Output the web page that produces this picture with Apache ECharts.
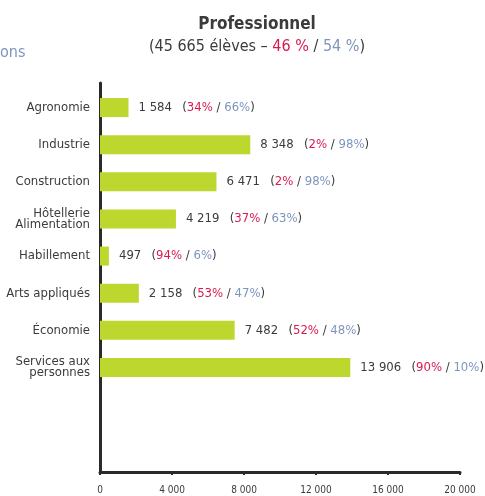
<!DOCTYPE html>
<html>
<head>
<meta charset="utf-8">
<script src="https://cdn.jsdelivr.net/npm/echarts@6/dist/echarts.min.js"></script>
<style>
  html, body { margin: 0; padding: 0; background: #fff; }
  #chart { width: 485px; height: 496px; }
</style>
</head>
<body>
<div id="chart"></div>
<script>
const categories = ['Agronomie', 'Industrie', 'Construction', 'Hôtellerie\nAlimentation', 'Habillement', 'Arts appliqués', 'Économie', 'Services aux\npersonnes'];
const students = [1584, 8348, 6471, 4219, 497, 2158, 7482, 13906];
const girlsPct = [34, 2, 2, 37, 94, 53, 52, 90];
const boysPct = [66, 98, 98, 63, 6, 47, 48, 10];
const xTicks = [0, 4000, 8000, 12000, 16000, 20000];

const FONT = "'Liberation Sans Narrow', 'DejaVu Sans Condensed', 'Roboto', sans-serif";
const DARK = '#3b3b3b';
const RED = '#d81b4f';
const BLUE = '#7f95bd';

const fmt = (v) => String(v).replace(/\B(?=(\d{3})+(?!\d))/g, ' ');

const chart = echarts.init(document.getElementById('chart'));

chart.setOption({
  animation: false,
  textStyle: { fontFamily: FONT },
  title: {
    text: 'Professionnel',
    subtext: '{d|(45 665 élèves – }{r|46 %}{d| / }{b|54 %}{d|)}',
    left: 252,
    textAlign: 'center',
    top: 11,
    itemGap: 6,
    textStyle: { fontFamily: FONT, fontSize: 17, fontWeight: 'bold', color: DARK },
    subtextStyle: {
      fontFamily: FONT,
      rich: {
        d: { fontFamily: FONT, fontSize: 16, color: DARK },
        r: { fontFamily: FONT, fontSize: 16, color: RED },
        b: { fontFamily: FONT, fontSize: 16, color: BLUE }
      }
    }
  },
  graphic: [{
    type: 'text', left: 0, top: 45,
    style: { text: 'ons', font: '16px ' + FONT, fill: BLUE }
  }],
  grid: [
    { left: 100, right: 25, top: 83, bottom: 24 },
    { left: 100, right: 25, top: 89, height: 297 }
  ],
  xAxis: [{
    gridIndex: 0,
    type: 'value',
    min: 0, max: 20000, interval: 4000,
    axisLine: { show: true, lineStyle: { color: '#2a2a2a', width: 3 } },
    axisTick: { show: true, length: 3, lineStyle: { color: '#2a2a2a', width: 2 } },
    splitLine: { show: false },
    axisLabel: {
      margin: 13, fontSize: 10, color: DARK, fontFamily: FONT,
      formatter: (v) => xTicks.includes(v) ? fmt(v) : ''
    }
  }, {
    gridIndex: 1,
    type: 'value',
    min: 0, max: 20000,
    show: false
  }],
  yAxis: [{
    gridIndex: 0,
    type: 'value',
    min: 0, max: 1,
    axisLine: { show: true, lineStyle: { color: '#2a2a2a', width: 3 } },
    axisTick: { show: false },
    axisLabel: { show: false },
    splitLine: { show: false }
  }, {
    gridIndex: 1,
    type: 'category',
    inverse: true,
    data: categories,
    axisLine: { show: false },
    axisTick: { show: false },
    axisLabel: {
      margin: 10, fontSize: 13, lineHeight: 11, color: DARK, fontFamily: FONT, align: 'right'
    }
  }],
  series: [{
    type: 'bar',
    xAxisIndex: 1,
    yAxisIndex: 1,
    data: students,
    barWidth: 19,
    itemStyle: { color: '#bed72f' },
    label: {
      show: true,
      position: 'right',
      distance: 10,
      formatter: (p) => '{n|' + fmt(students[p.dataIndex]) + '}   {d|(}{r|' + girlsPct[p.dataIndex] + '%}{d| / }{b|' + boysPct[p.dataIndex] + '%}{d|)}',
      rich: {
        n: { fontFamily: FONT, fontSize: 13, color: DARK },
        d: { fontFamily: FONT, fontSize: 13, color: DARK },
        r: { fontFamily: FONT, fontSize: 13, color: RED },
        b: { fontFamily: FONT, fontSize: 13, color: BLUE }
      }
    }
  }]
});
</script>
</body>
</html>
